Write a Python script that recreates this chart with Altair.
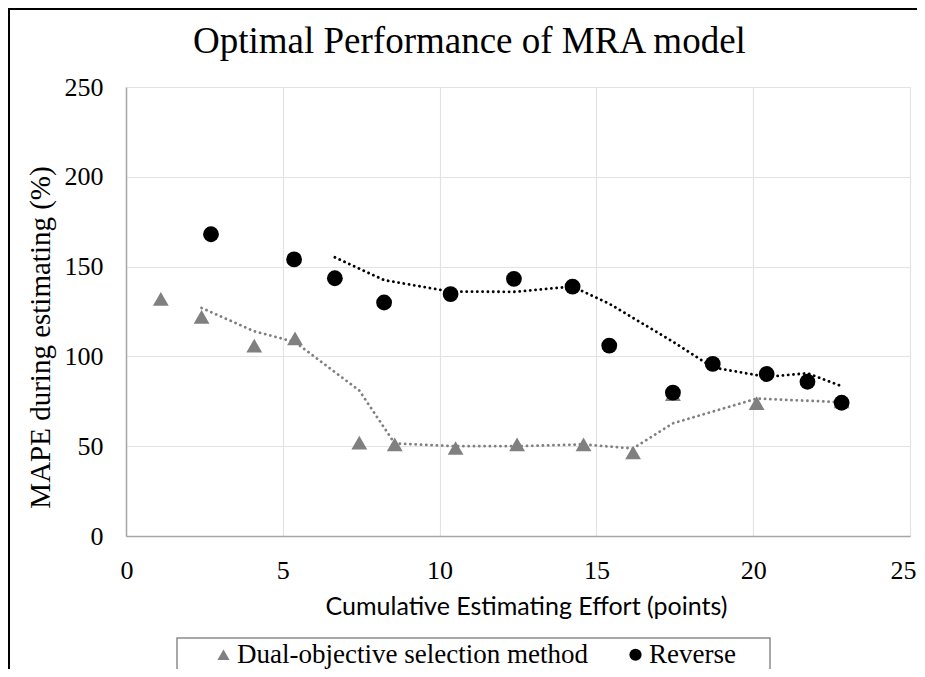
import altair as alt
import pandas as pd

series_names = ["Dual-objective selection method", "Reverse"]
series_colors = ["#808080", "#000000"]
series_shapes = ["triangle-up", "circle"]

dual_x = [1.11, 2.41, 4.09, 5.39, 7.44, 8.57, 10.51, 12.47, 14.59, 16.17, 17.44, 20.11, 22.82]
dual_y = [132, 122, 106, 110, 52, 51, 49, 51, 51, 46.5, 79, 74, 75]
rev_x = [2.71, 5.36, 6.66, 8.23, 10.35, 12.37, 14.24, 15.41, 17.44, 18.71, 20.43, 21.73, 22.82]
rev_y = [168, 154, 143.5, 130, 134.7, 143.2, 138.8, 106, 79.8, 95.8, 90.2, 85.9, 74.2]

x_ticks = [0, 5, 10, 15, 20, 25]
y_ticks = [0, 50, 100, 150, 200, 250]

title_text = "Optimal Performance of MRA model"
x_title = "Cumulative Estimating Effort (points)"
y_title = "MAPE during estimating (%)"

dual_df = pd.DataFrame({"x": dual_x, "y": dual_y, "series": series_names[0]})
rev_df = pd.DataFrame({"x": rev_x, "y": rev_y, "series": series_names[1]})
df = pd.concat([dual_df, rev_df], ignore_index=True)

SERIF = "Liberation Serif"

xscale = alt.Scale(domain=[0, 25], nice=False, zero=False)
yscale = alt.Scale(domain=[0, 250], nice=False, zero=False)

x_axis = alt.Axis(
    values=x_ticks, title=x_title, grid=True, gridColor="#e3e3e3", gridWidth=1.2,
    domain=True, domainColor="#a6a6a6", domainWidth=1.5, ticks=False, tickSize=0,
    labelFont=SERIF, labelFontSize=26, labelColor="black", labelPadding=21,
    titleFont="Lato", titleFontSize=25, titleFontWeight="normal", titleColor="black",
    titleX=400, titleY=70, titleBaseline="middle", titleAlign="center",
    labelFlush=True, labelFlushOffset=6, labelOverlap=False,
)
y_axis = alt.Axis(
    values=y_ticks, title=y_title, grid=True, gridColor="#e3e3e3", gridWidth=1.2,
    domain=True, domainColor="#a6a6a6", domainWidth=1.5, ticks=False, tickSize=0,
    labelFont=SERIF, labelFontSize=26, labelColor="black", labelPadding=23,
    titleFont=SERIF, titleFontSize=29, titleFontWeight="normal", titleColor="black",
    titleX=-86, titleY=250, titleAngle=270, titleBaseline="middle", titleAlign="center",
    labelFlush=False, labelOverlap=False,
)

legend = alt.Legend(
    title=None, orient="none", legendX=84, legendY=554, direction="horizontal",
    labelFont=SERIF, labelFontSize=27, labelColor="black", labelLimit=0,
    symbolSize=150, symbolStrokeWidth=0, labelOffset=0, columnPadding=34, padding=0,
)

color_enc = alt.Color("series:N", scale=alt.Scale(domain=series_names, range=series_colors), legend=legend)
shape_enc = alt.Shape("series:N", scale=alt.Scale(domain=series_names, range=series_shapes), legend=legend)

# decorations: outer chart border and legend box
frame = alt.Chart(pd.DataFrame({"a": [0]})).mark_rect(
    fill=None, stroke="black", strokeWidth=2
).encode(x=alt.value(-117), x2=alt.value(900), y=alt.value(-78), y2=alt.value(760))

legend_box = alt.Chart(pd.DataFrame({"a": [0]})).mark_rect(
    fill="white", stroke="#8c8c8c", strokeWidth=1.5
).encode(x=alt.value(51), x2=alt.value(644), y=alt.value(551), y2=alt.value(640))

dual_trend = alt.Chart(dual_df).transform_window(
    ma="mean(y)", idx="row_number()", frame=[-1, 0], sort=[alt.SortField("x")]
).transform_filter("datum.idx >= 2").mark_line(
    color="#808080", strokeWidth=2.8, strokeDash=[0.1, 5.2], strokeCap="round"
).encode(x=alt.X("x:Q", scale=xscale, axis=x_axis), y=alt.Y("ma:Q", scale=yscale, axis=y_axis), order="x:Q")

rev_trend = alt.Chart(rev_df).transform_window(
    ma="mean(y)", idx="row_number()", frame=[-2, 0], sort=[alt.SortField("x")]
).transform_filter("datum.idx >= 3").mark_line(
    color="#000000", strokeWidth=2.8, strokeDash=[0.1, 5.2], strokeCap="round"
).encode(x=alt.X("x:Q", scale=xscale, axis=x_axis), y=alt.Y("ma:Q", scale=yscale, axis=y_axis), order="x:Q")

points = alt.Chart(df).mark_point(filled=True, size=250, opacity=1, strokeWidth=0).encode(
    x=alt.X("x:Q", scale=xscale, axis=x_axis),
    y=alt.Y("y:Q", scale=yscale, axis=y_axis),
    color=color_enc,
    shape=shape_enc,
)

chart = alt.layer(frame, legend_box, dual_trend, rev_trend, points).properties(
    width=784,
    height=449,
    autosize=alt.AutoSizeParams(type="none"),
    padding={"left": 118, "top": 79, "right": 7, "bottom": 133},
    title=alt.TitleParams(
        text=title_text, font=SERIF, fontSize=37, fontWeight="normal", color="black",
        anchor="start", frame="group", baseline="alphabetic", offset=0, dx=67, dy=82,
    ),
    background="white",
).configure_view(stroke=None)

chart.save("out.html", embed_options={"renderer": "svg", "actions": False})
